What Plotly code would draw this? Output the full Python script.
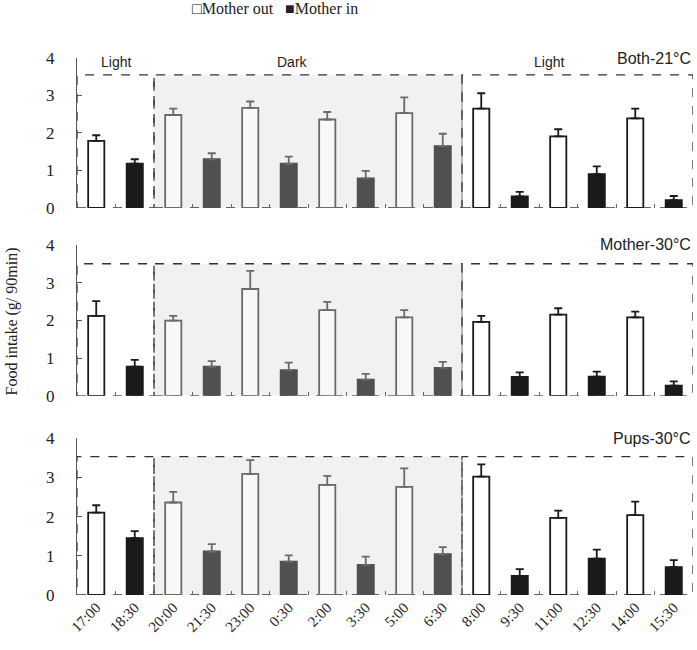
import plotly.graph_objects as go
from plotly.subplots import make_subplots

times = ["17:00", "18:30", "20:00", "21:30", "23:00", "0:30", "2:00", "3:30",
         "5:00", "6:30", "8:00", "9:30", "11:00", "12:30", "14:00", "15:30"]

both21_mean = [1.79, 1.18, 2.48, 1.30, 2.67, 1.18, 2.36, 0.79, 2.53, 1.65, 2.65, 0.31, 1.91, 0.90, 2.39, 0.21]
both21_sem = [0.15, 0.12, 0.17, 0.16, 0.17, 0.19, 0.20, 0.20, 0.42, 0.33, 0.41, 0.12, 0.19, 0.21, 0.26, 0.11]
mother30_mean = [2.12, 0.77, 1.99, 0.77, 2.83, 0.68, 2.27, 0.43, 2.08, 0.74, 1.96, 0.50, 2.15, 0.51, 2.08, 0.27]
mother30_sem = [0.39, 0.18, 0.13, 0.15, 0.48, 0.20, 0.22, 0.15, 0.19, 0.16, 0.16, 0.12, 0.17, 0.13, 0.15, 0.11]
pups30_mean = [2.10, 1.45, 2.36, 1.11, 3.09, 0.85, 2.81, 0.77, 2.76, 1.04, 3.02, 0.49, 1.97, 0.93, 2.04, 0.71]
pups30_sem = [0.19, 0.18, 0.27, 0.19, 0.35, 0.16, 0.23, 0.21, 0.47, 0.18, 0.31, 0.17, 0.18, 0.23, 0.34, 0.18]

panels = [("Both-21°C", both21_mean, both21_sem),
          ("Mother-30°C", mother30_mean, mother30_sem),
          ("Pups-30°C", pups30_mean, pups30_sem)]

dark_idx = set(range(2, 10))
series_names = ["Mother out", "Mother in"]
legend_glyphs = {"Mother out": "□", "Mother in": "■"}
phase_labels = ["Light", "Dark", "Light"]

fig = make_subplots(rows=3, cols=1)

styles = {
    ("Mother out", False): dict(fill="white", line="#1a1a1a", err="#1a1a1a"),
    ("Mother out", True): dict(fill="#f8f8f8", line="#6a6a6a", err="#6a6a6a"),
    ("Mother in", False): dict(fill="#1a1a1a", line="#1a1a1a", err="#1a1a1a"),
    ("Mother in", True): dict(fill="#505050", line="#505050", err="#6a6a6a"),
}

for p, (title, mean, sem) in enumerate(panels):
    row = p + 1
    for s, name in enumerate(series_names):
        for dark in (False, True):
            idx = [i for i in range(len(times)) if i % 2 == s and ((i in dark_idx) == dark)]
            st = styles[(name, dark)]
            fig.add_trace(go.Bar(
                x=[times[i] for i in idx], y=[mean[i] for i in idx],
                name=name, legendgroup=name, showlegend=False,
                width=0.42,
                marker=dict(color=st["fill"], line=dict(color=st["line"], width=1.8)),
                error_y=dict(type="data", array=[sem[i] for i in idx],
                             arrayminus=[0] * len(idx), symmetric=False,
                             color=st["err"], thickness=1.8, width=4),
            ), row=row, col=1)

domains = [[0.7207, 1.0], [0.371, 0.652], [0.0, 0.292]]
box_tops = [3.55, 3.5, 3.53]
serif = "Liberation Serif"
sans = "Liberation Sans"

for p in range(3):
    xa = "xaxis" if p == 0 else f"xaxis{p+1}"
    ya = "yaxis" if p == 0 else f"yaxis{p+1}"
    fig.layout[ya].update(domain=domains[p], range=[0, 4], tickvals=[0, 1, 2, 3, 4],
                          showgrid=False, zeroline=False, showline=True, linecolor="#555",
                          linewidth=1, ticks="inside", ticklen=5, tickcolor="#555",
                          ticklabelstandoff=18,
                          tickfont=dict(family=serif, size=17, color="#222"))
    fig.layout[xa].update(type="category", categoryorder="array", categoryarray=times,
                          range=[-0.5, 15.5], showgrid=False, zeroline=False, showline=False,
                          ticks="inside", tickson="boundaries", ticklen=4, tickcolor="#666",
                          showticklabels=(p == 2), tickangle=-45,
                          tickfont=dict(family=serif, size=15, color="#222"))
    xr = "x" if p == 0 else f"x{p+1}"
    yr = "y" if p == 0 else f"y{p+1}"
    top = box_tops[p]
    fig.add_shape(type="rect", xref=xr, yref=yr, x0=1.5, x1=9.5, y0=0, y1=top,
                  fillcolor="#f1f1f1", line=dict(color="#333", width=1.3, dash="dash"),
                  layer="below")
    fig.add_shape(type="rect", xref=xr, yref=yr, x0=-0.5, x1=1.5, y0=0, y1=top,
                  line=dict(color="#333", width=1.3, dash="dash"), layer="below")
    fig.add_shape(type="rect", xref=xr, yref=yr, x0=9.5, x1=15.5, y0=0, y1=top,
                  line=dict(color="#333", width=1.3, dash="dash"), layer="below")
    fig.add_shape(type="line", xref=xr, yref=yr, x0=9.5, x1=9.5, y0=0, y1=top,
                  line=dict(color="#777", width=1), layer="below")
    fig.add_annotation(xref=f"{xr} domain", yref=f"{yr} domain", x=1.0, y=1.0,
                       text=panels[p][0], showarrow=False, xanchor="right", yanchor="middle",
                       font=dict(family=sans, size=16, color="#222"))

for txt, xpos in zip(phase_labels, [0.5, 5.1, 11.75]):
    fig.add_annotation(xref="x", yref="y", x=xpos, y=3.62, text=txt, showarrow=False,
                       yanchor="bottom", font=dict(family=sans, size=14, color="#222"))

fig.add_annotation(xref="paper", yref="paper", x=-0.105, y=0.51, xanchor="center",
                   yanchor="middle",
                   text="Food intake (g/ 90min)", textangle=-90, showarrow=False,
                   font=dict(family=serif, size=16, color="#222"))

for name, xpos in zip(series_names, [0.1834, 0.334]):
    fig.add_annotation(xref="paper", yref="paper", x=xpos, y=1.093, xanchor="left",
                       yanchor="middle", text=legend_glyphs[name] + name, showarrow=False,
                       font=dict(family=serif, size=16, color="#222"))

fig.update_layout(
    width=697, height=650,
    margin=dict(l=77, r=4, t=58, b=55),
    plot_bgcolor="white", paper_bgcolor="white",
    barmode="overlay",
    showlegend=False,
)

fig.write_html("out.html", config={"displayModeBar": False},
               post_script="document.body.style.margin='0';")
